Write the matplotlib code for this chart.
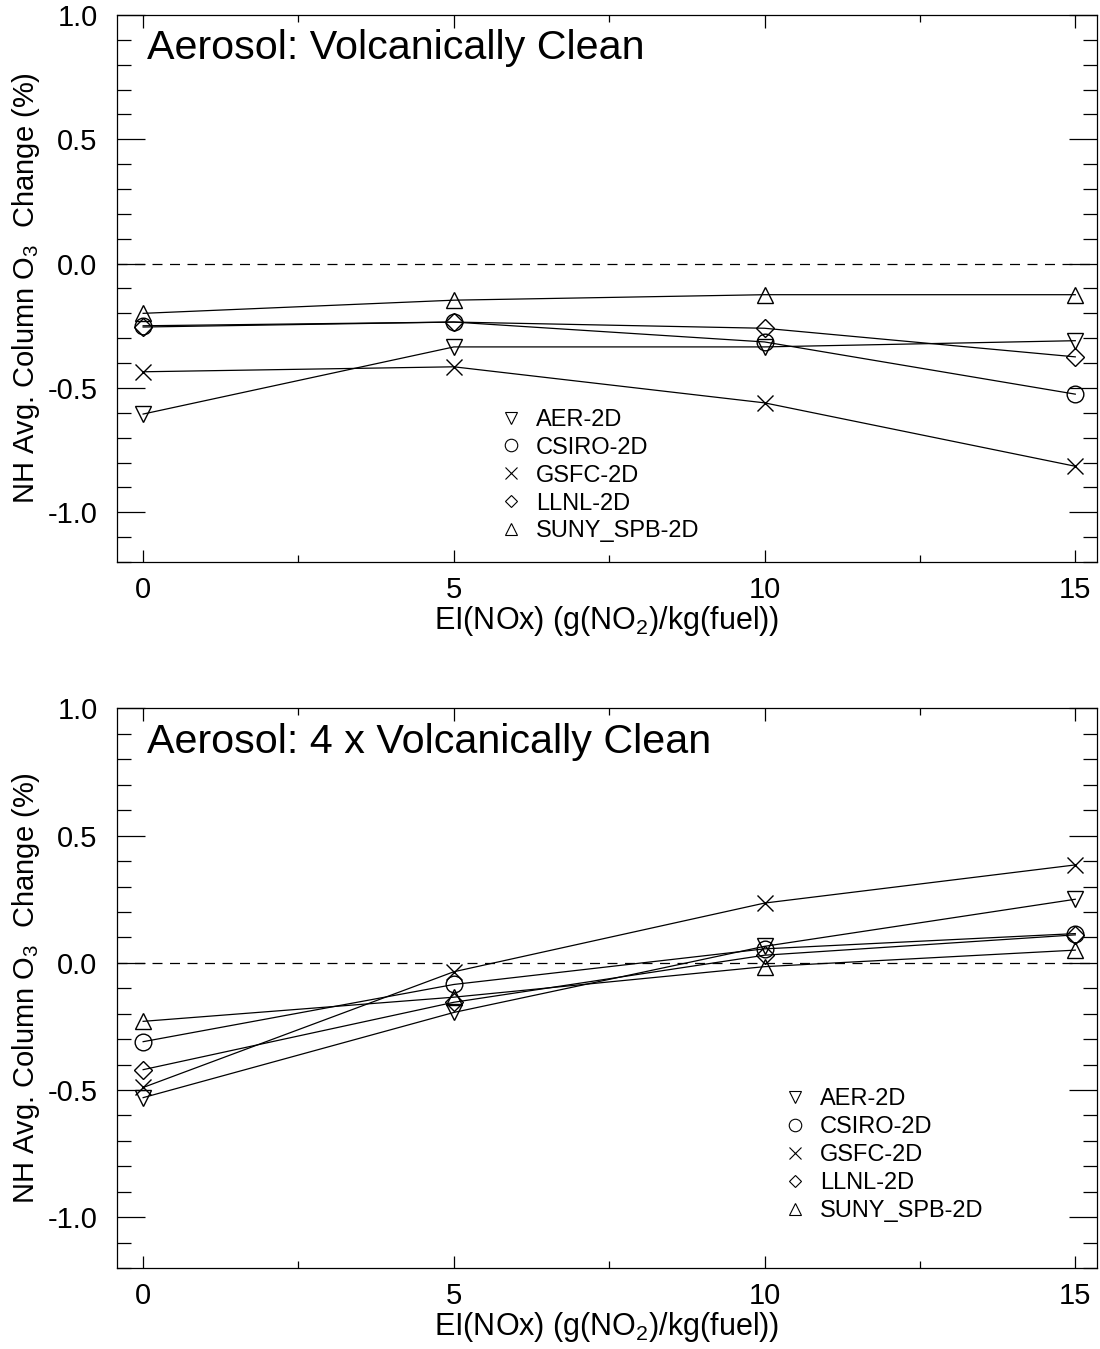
import matplotlib
matplotlib.use("Agg")
import matplotlib.pyplot as plt
from matplotlib.ticker import MultipleLocator, FormatStrFormatter
from matplotlib.lines import Line2D

plt.rcParams["font.family"] = ["Liberation Sans", "DejaVu Sans"]
plt.rcParams["axes.unicode_minus"] = False
plt.rcParams["mathtext.fontset"] = "custom"
plt.rcParams["mathtext.rm"] = "Liberation Sans"
plt.rcParams["mathtext.it"] = "Liberation Sans"

ei_nox = [0, 5, 10, 15]
models = ["AER-2D", "CSIRO-2D", "GSFC-2D", "LLNL-2D", "SUNY_SPB-2D"]
markers = ["v", "o", "x", "D", "^"]

# Column ozone change (%) for the volcanically clean aerosol case
clean_aer = [-0.605, -0.335, -0.335, -0.31]
clean_csiro = [-0.25, -0.235, -0.315, -0.525]
clean_gsfc = [-0.435, -0.415, -0.56, -0.815]
clean_llnl = [-0.255, -0.235, -0.26, -0.375]
clean_suny = [-0.20, -0.147, -0.125, -0.125]

# Column ozone change (%) for 4 x volcanically clean aerosol
x4_aer = [-0.53, -0.195, 0.065, 0.25]
x4_csiro = [-0.31, -0.085, 0.055, 0.115]
x4_gsfc = [-0.49, -0.035, 0.235, 0.385]
x4_llnl = [-0.42, -0.155, 0.03, 0.11]
x4_suny = [-0.23, -0.135, -0.015, 0.05]

panels = [
    ("Aerosol: Volcanically Clean",
     [clean_aer, clean_csiro, clean_gsfc, clean_llnl, clean_suny]),
    ("Aerosol: 4 x Volcanically Clean",
     [x4_aer, x4_csiro, x4_gsfc, x4_llnl, x4_suny]),
]

fig = plt.figure(figsize=(11.0, 13.49), dpi=100)
axes_rects = [
    [0.1064, 0.5834, 0.8909, 0.4055],
    [0.1064, 0.0600, 0.8909, 0.4148],
]
legend_anchor = [(0.39, 0.28), (0.68, 0.321)]

for (title, series), rect, anchor in zip(panels, axes_rects, legend_anchor):
    ax = fig.add_axes(rect)
    ax.set_xlim(-0.42, 15.35)
    ax.set_ylim(-1.2, 1.0)
    ax.axhline(0.0, color="black", lw=0.9, ls=(0, (8, 6)))
    for vals, m in zip(series, markers):
        msize = 12 if m != "D" else 9
        ax.plot(ei_nox, vals, color="black", lw=0.9, marker=m,
                markersize=msize, markerfacecolor="none",
                markeredgecolor="black", markeredgewidth=1.0)

    ax.text(0.0306, 0.94, title, transform=ax.transAxes, fontsize=29.7,
            va="center", ha="left")

    ax.xaxis.set_major_locator(MultipleLocator(5))
    ax.xaxis.set_minor_locator(MultipleLocator(2.5))
    ax.yaxis.set_major_locator(MultipleLocator(0.5))
    ax.yaxis.set_minor_locator(MultipleLocator(0.1))
    ax.yaxis.set_major_formatter(FormatStrFormatter("%.1f"))
    ax.xaxis.set_major_formatter(FormatStrFormatter("%d"))
    ax.tick_params(axis="both", which="both", direction="in",
                   top=True, right=True, width=0.9, labelsize=21)
    ax.tick_params(axis="y", which="major", length=20, pad=14)
    ax.tick_params(axis="y", which="minor", length=10)
    ax.tick_params(axis="x", which="major", length=9, pad=10)
    ax.tick_params(axis="x", which="minor", length=5)
    for s in ax.spines.values():
        s.set_linewidth(0.9)

    ax.set_xlabel("EI(NOx) (g(NO$_2$)/kg(fuel))", fontsize=22, labelpad=0)
    ax.set_ylabel("NH Avg. Column O$_3$  Change (%)", fontsize=21,
                  labelpad=4)

    handles = [Line2D([], [], ls="none", marker=m, color="black",
                      markerfacecolor="none",
                      markersize=(9 if m != "D" else 6.5),
                      markeredgewidth=0.8)
               for m in markers]
    ax.legend(handles, models, loc="upper left", bbox_to_anchor=anchor,
              frameon=False, fontsize=17, handlelength=1.0,
              handletextpad=0.55, labelspacing=0.25, borderpad=0.0,
              borderaxespad=0.0)

fig.savefig("out.png", dpi=100)
